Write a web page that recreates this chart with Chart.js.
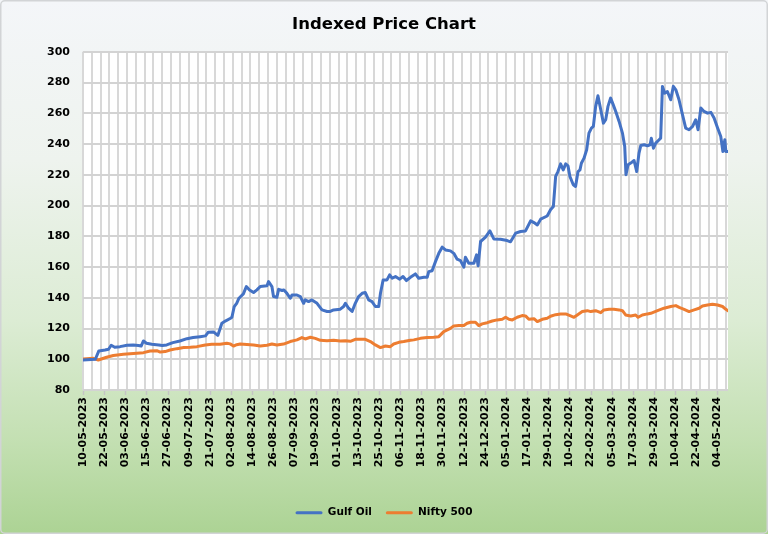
<!DOCTYPE html>
<html>
<head>
<meta charset="utf-8">
<script src="https://cdn.jsdelivr.net/npm/chart.js@4.4.1/dist/chart.umd.min.js"></script>
<style>
html,body{margin:0;padding:0;background:#ffffff;}
canvas{display:block;}
</style>
</head>
<body>
<canvas id="c" width="768" height="534" style="width:768px;height:534px"></canvas>
<script>
// x values are days counted from 10-05-2023
const tickLabels = ['10-05-2023','22-05-2023','03-06-2023','15-06-2023','27-06-2023','09-07-2023','21-07-2023','02-08-2023','14-08-2023','26-08-2023','07-09-2023','19-09-2023','01-10-2023','13-10-2023','25-10-2023','06-11-2023','18-11-2023','30-11-2023','12-12-2023','24-12-2023','05-01-2024','17-01-2024','29-01-2024','10-02-2024','22-02-2024','05-03-2024','17-03-2024','29-03-2024','10-04-2024','22-04-2024','04-05-2024'];
const seriesNames = ['Gulf Oil', 'Nifty 500'];

const gulfDays = [0,7,9,12.5,14.5,16,18,21,25,28.5,31.5,33,34.3,36,39,43,45,47.5,51,55,59,62.5,66.5,69.5,71,74,76.5,78.8,81,83.5,84.5,85.8,87.2,88.5,89.2,91,92.7,94.5,96.8,98.7,100.6,104.4,105.3,107.2,108.1,110,111,113,114,115.7,117.6,118.6,121.4,123.3,125.2,126.1,128,129.9,132.8,135.6,138.5,140.3,142.2,146,147.9,148.9,150.7,152.7,154.5,156.4,158.4,160.2,162.1,164,165.9,167.8,168.8,170.3,172.5,174,175.4,177.3,179.7,181.6,183.5,185.8,188.6,190.5,193.4,195.3,196.2,198.1,200,201.9,203.8,205.7,208.5,210.4,212.3,214.2,216.1,217,218.9,221.8,223.3,224.2,225.6,228.4,230.9,233.1,236.9,240.7,242.6,245.5,248.3,251.1,254,255.9,257.8,259.7,263.4,265.3,266.9,268.2,269.5,271,272.5,273.9,275.2,276.3,278.2,279.5,280.9,282,282.8,284.3,285.8,287.1,288.5,289.6,290.9,292.2,293.8,295.3,296.6,297.9,299.4,300.9,302.3,304.2,306.1,307.4,308.1,309.3,310.8,312.7,314.2,315.5,316.5,318.4,320.3,321.8,322.5,323.7,325,326.9,327.8,328.8,330.1,331.6,333.5,335,336.4,338.2,340.2,342,343.9,345.9,347.7,349,350.6,352.4,354.4,356.3,358.1,360.1,361.9,363.1,364.2,364.8,366];
const gulfValues = [99.5,100.0,105.4,106.0,106.5,109.1,107.8,108.2,109.1,109.3,109.0,108.6,111.9,110.4,109.7,109.3,108.9,109.3,110.8,111.9,113.4,114.1,114.7,115.2,117.5,117.8,115.5,123.4,125.0,126.5,127.3,134.2,136.4,139.7,140.5,142.5,147.3,145.1,143.4,145.1,147.3,147.8,150.5,147.3,140.8,140.3,145.5,144.7,145.1,142.9,139.7,141.8,141.8,140.8,136.4,138.6,137.5,138.6,136.4,132.1,131.1,131.1,132.1,132.6,134.3,136.4,133.2,131.1,136.4,140.8,142.9,143.4,138.6,137.5,134.3,134.3,142.9,151.6,151.6,154.9,152.7,153.8,152.1,153.8,151.2,153.3,155.5,152.7,153.3,153.3,157.0,157.6,163.5,168.9,172.9,171.1,170.5,168.9,165.1,164.2,159.9,166.4,162.5,162.5,167.9,160.8,176.6,179.4,183.5,178.3,178.1,177.2,176.4,182.0,183.1,183.5,190.0,188.9,187.4,191.1,193.2,197.2,199.3,218.9,222.1,227.1,223.2,227.1,225.8,218.9,213.5,212.4,222.1,223.2,227.5,230.8,236.3,247.1,250.4,251.5,264.5,271.4,262.3,253.6,255.8,264.5,269.9,265.5,261.2,254.7,247.1,238.4,220.0,226.5,227.6,229.3,222.1,234.1,239.0,239.5,238.9,239.5,243.8,237.3,240.6,242.8,243.8,277.5,273.1,274.2,268.8,277.5,275.3,268.8,259.0,250.4,249.3,251.5,255.8,249.3,263.4,261.2,260.1,260.6,256.9,250.4,244.9,235.1,242.8,235.1,235.1];

const niftyDays = [0,5.9,8.7,13.4,17.2,22.9,28.6,34.3,38.1,41.9,43.8,46.6,49.4,53.3,57.1,60.9,64.6,69.4,73.1,77.8,81.6,83.5,85.4,87.2,89.2,93,96.8,100.6,104.4,107.2,110,113.8,117.6,121.4,124.2,126.1,129,131.8,134.7,138.5,142.2,146,148.9,151.7,154.5,157.4,160.2,163.1,165.9,168.8,171.6,174.4,176.3,179.2,182,185.8,187.7,191.5,195.3,199,201.9,204.7,208.5,210.4,213.3,216.1,218,219.9,222.7,224.6,226.5,229.4,232.2,235,237.9,239.8,241.7,243.6,246.4,249.2,251.1,253,255.9,257.8,260.6,263.4,265.3,268.2,271,273.9,276.7,278.6,280.5,283.3,286.2,288.1,290.9,293.8,295.6,298.5,301.3,304.2,306.1,307.9,310.8,313.6,315,317.4,320.3,322.2,326,329.7,333.5,336.4,338.3,341.1,343.9,346.8,349.6,351.5,354.4,357.2,360.1,362.9,364.8,366];
const niftyValues = [100.2,100.6,99.5,101.3,102.4,103.2,103.7,104.3,105.4,105.6,104.7,105.0,106.0,106.9,107.6,107.8,108.2,109.3,109.7,109.7,110.4,110.0,108.6,109.5,109.9,109.6,109.3,108.6,109.1,109.9,109.3,109.9,111.5,112.6,114.1,113.2,114.3,113.6,112.3,112.1,112.3,111.9,112.1,111.7,113.0,113.0,113.0,111.5,109.3,107.6,108.6,108.2,109.9,111.0,111.5,112.3,112.6,113.6,114.1,114.3,114.7,118.0,120.1,121.7,121.9,121.9,123.4,124.1,124.1,121.9,123.0,123.8,124.9,125.6,126.0,127.3,126.0,125.6,127.3,128.4,128.2,126.0,126.4,124.5,126.0,126.7,128.0,129.0,129.4,129.5,128.2,127.3,128.8,131.0,131.6,131.0,131.6,130.3,132.1,132.5,132.5,132.1,131.6,128.8,128.2,128.8,127.3,128.8,129.5,129.9,131.6,133.2,134.3,134.9,133.8,132.5,131.0,132.1,133.2,134.7,135.3,135.8,135.3,134.3,132.5,131.6];

const Y_MIN = 80, Y_MAX = 300, Y_STEP = 20;
const X_MAX_DAY = 366, LABEL_STEP = 12, GRID_STEP = 5;

Chart.defaults.font.family = "'DejaVu Sans', 'Liberation Sans', sans-serif";
Chart.defaults.color = '#000000';

const bgPlugin = {
  id: 'bgPlugin',
  beforeDraw(chart) {
    const {ctx, width, height, chartArea} = chart;
    ctx.save();
    const g = ctx.createLinearGradient(0, 0, 0, height);
    g.addColorStop(0, '#f4f6f9');
    g.addColorStop(0.3, '#eef3ee');
    g.addColorStop(0.6, '#dcecd4');
    g.addColorStop(0.82, '#c4e0b3');
    g.addColorStop(1, '#acd394');
    ctx.fillStyle = g;
    ctx.fillRect(0, 0, width, height);
    ctx.strokeStyle = '#d2d4d6';
    ctx.lineWidth = 1.5;
    ctx.beginPath();
    if (ctx.roundRect) ctx.roundRect(0.75, 0.75, width - 1.5, height - 1.5, 4); else ctx.rect(0.75, 0.75, width - 1.5, height - 1.5);
    ctx.stroke();
    ctx.fillStyle = '#ffffff';
    ctx.fillRect(chartArea.left, chartArea.top, chartArea.right - chartArea.left, chartArea.bottom - chartArea.top);
    ctx.restore();
  }
};

// grid lines placed through the chart's own scales
const gridPlugin = {
  id: 'gridPlugin',
  beforeDatasetsDraw(chart) {
    const {ctx, chartArea, scales} = chart;
    const xs = scales.x, ys = scales.y;
    ctx.save();
    ctx.lineWidth = 2;
    ctx.strokeStyle = '#d8d8d8';
    for (let v = 0; v <= X_MAX_DAY; v += GRID_STEP) {
      const px = Math.round(xs.getPixelForValue(v));
      ctx.beginPath(); ctx.moveTo(px, chartArea.top); ctx.lineTo(px, chartArea.bottom); ctx.stroke();
    }
    ctx.strokeStyle = '#d3d3d3';
    for (let v = Y_MIN; v <= Y_MAX; v += Y_STEP) {
      const py = Math.round(ys.getPixelForValue(v));
      ctx.beginPath(); ctx.moveTo(chartArea.left, py); ctx.lineTo(chartArea.right, py); ctx.stroke();
    }
    ctx.strokeStyle = '#c4c4c4';
    ctx.lineWidth = 1.5;
    for (let v = 0; v <= X_MAX_DAY; v += LABEL_STEP) {
      const px = Math.round(xs.getPixelForValue(v)) + 0.5;
      ctx.beginPath(); ctx.moveTo(px, chartArea.bottom + 1); ctx.lineTo(px, chartArea.bottom + 5); ctx.stroke();
    }
    ctx.restore();
  }
};

const mk = (days, vals) => days.map((d, i) => ({x: d, y: vals[i]}));

new Chart(document.getElementById('c'), {
  type: 'line',
  data: {
    datasets: [
      {label: seriesNames[0], data: mk(gulfDays, gulfValues), borderColor: '#4472C4', backgroundColor: '#4472C4', borderWidth: 3, pointRadius: 0, tension: 0, borderJoinStyle: 'round', borderCapStyle: 'round'},
      {label: seriesNames[1], data: mk(niftyDays, niftyValues), borderColor: '#ED7D31', backgroundColor: '#ED7D31', borderWidth: 3, pointRadius: 0, tension: 0, borderJoinStyle: 'round', borderCapStyle: 'round'}
    ]
  },
  options: {
    responsive: false,
    animation: false,
    devicePixelRatio: 1,
    layout: {padding: {left: 0, right: 0, top: 0, bottom: 6}},
    plugins: {
      title: {display: true, text: 'Indexed Price Chart', color: '#000', font: {size: 16.5, weight: 'bold'}, padding: {top: 15, bottom: 17}},
      legend: {
        position: 'bottom',
        labels: {
          boxWidth: 27, boxHeight: 3, padding: 14, color: '#000',
          font: {size: 10.5, weight: 'bold'},
          generateLabels: (chart) => chart.data.datasets.map((ds, i) => ({
            text: ds.label, fillStyle: ds.borderColor, strokeStyle: ds.borderColor,
            lineWidth: 0, hidden: false, datasetIndex: i, fontColor: '#000', borderRadius: 1.5
          }))
        }
      },
      tooltip: {enabled: false}
    },
    scales: {
      x: {
        type: 'linear', min: 0, max: X_MAX_DAY,
        afterBuildTicks: (axis) => {
          const vals = [];
          for (let v = 0; v <= X_MAX_DAY; v += LABEL_STEP) vals.push({value: v});
          axis.ticks = vals;
        },
        afterFit: (s) => { s.height = 103.5; },
        ticks: {
          autoSkip: false, minRotation: 90, maxRotation: 90, padding: 3,
          font: {size: 11, weight: 'bold'}, color: '#000',
          callback: (v) => tickLabels[Math.round(v / LABEL_STEP)]
        },
        grid: {display: false, drawTicks: true, tickLength: 4},
        border: {display: false}
      },
      y: {
        min: Y_MIN, max: Y_MAX,
        afterFit: (s) => { s.width = 83; },
        ticks: {stepSize: Y_STEP, padding: 13, font: {size: 11, weight: 'bold'}, color: '#000'},
        grid: {display: false, drawTicks: false},
        border: {display: false}
      },
      yRight: {
        position: 'right', display: true,
        afterFit: (s) => { s.width = 40; },
        ticks: {display: false},
        grid: {display: false, drawTicks: false},
        border: {display: false}
      }
    }
  },
  plugins: [bgPlugin, gridPlugin]
});
</script>
</body>
</html>
